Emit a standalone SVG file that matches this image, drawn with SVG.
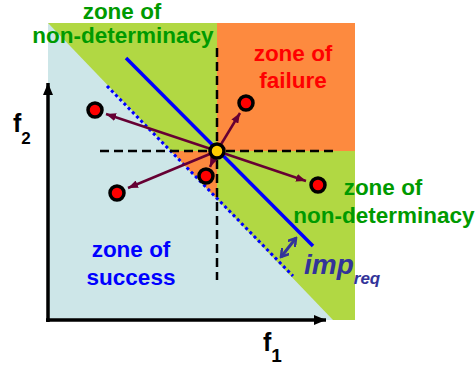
<svg xmlns="http://www.w3.org/2000/svg" width="476" height="369" viewBox="0 0 476 369">
<style>
.lbl{font-family:"Liberation Sans",Arial,sans-serif;font-weight:bold;font-size:22.5px;text-anchor:middle}
.grn{fill:#009a00}
.red{fill:#ff0000}
.blu{fill:#0000ff}
.axl{font-family:"Liberation Sans",Arial,sans-serif;font-weight:bold;fill:#000}
.dash{stroke:#000;stroke-width:2.5;stroke-dasharray:9 5;fill:none}
.arr{stroke:#660033;stroke-width:2.5;fill:none;marker-end:url(#ah)}
.dot{fill:#ff0000;stroke:#000;stroke-width:3.5}
</style>
<defs>
<marker id="ah" markerUnits="userSpaceOnUse" viewBox="0 0 10 8" refX="10" refY="4" markerWidth="10" markerHeight="8" orient="auto">
<path d="M0,0 L10,4 L0,8 Z" fill="#660033"/>
</marker>
<marker id="axh" markerUnits="userSpaceOnUse" viewBox="0 0 12 10" refX="12" refY="5" markerWidth="12" markerHeight="10" orient="auto">
<path d="M0,0 L12,5 L0,10 Z" fill="#000"/>
</marker>
<marker id="dh" markerUnits="userSpaceOnUse" viewBox="0 0 10 10" refX="8" refY="5" markerWidth="10" markerHeight="10" orient="auto">
<path d="M0,0 L8,5 L0,10" fill="none" stroke="#333399" stroke-width="2.5"/>
</marker>
<marker id="dt" markerUnits="userSpaceOnUse" viewBox="0 0 10 10" refX="2" refY="5" markerWidth="10" markerHeight="10" orient="auto">
<path d="M10,0 L2,5 L10,10" fill="none" stroke="#333399" stroke-width="2.5"/>
</marker>
</defs>
<g id="regions">
<rect x="48" y="23" width="307" height="297" fill="#b1d843"/>
<polygon points="48,23 333,320 48,320" fill="#cde6e8"/>
<rect x="217" y="23" width="138" height="128" fill="#fd8a3f"/>
<polygon points="171,151 217,151 217,199" fill="#fd8a3f"/>
</g>
<g id="lines">
<line x1="107" y1="86" x2="293" y2="276" stroke="#0000ff" stroke-width="3" stroke-dasharray="3 3"/>
<line x1="126" y1="58" x2="313" y2="246" stroke="#0000ff" stroke-width="3.5"/>
<line class="dash" x1="100" y1="151" x2="333" y2="151"/>
<line class="dash" x1="217" y1="48" x2="217" y2="280"/>
</g>
<g id="connectors">
<line class="arr" x1="217" y1="151" x2="106" y2="114"/>
<line class="arr" x1="217" y1="151" x2="240" y2="113"/>
<line class="arr" x1="217" y1="151" x2="128" y2="188"/>
<line class="arr" x1="217" y1="151" x2="210" y2="167"/>
<line class="arr" x1="217" y1="151" x2="306" y2="181"/>
<line x1="281" y1="257" x2="296" y2="238" stroke="#333399" stroke-width="3" marker-start="url(#dt)" marker-end="url(#dh)"/>
</g>
<g id="dots">
<circle class="dot" cx="95" cy="110" r="7"/>
<circle class="dot" cx="246" cy="103" r="7"/>
<circle class="dot" cx="117" cy="193" r="7"/>
<circle class="dot" cx="206" cy="176" r="7"/>
<circle class="dot" cx="318" cy="185" r="7"/>
<circle id="center" cx="217" cy="151" r="7" fill="#ffcc00" stroke="#000" stroke-width="3.5"/>
</g>
<g id="axes">
<line x1="48" y1="322" x2="48" y2="83" stroke="#000" stroke-width="3.5" marker-end="url(#axh)"/>
<line x1="46" y1="320" x2="326" y2="320" stroke="#000" stroke-width="3.5" marker-end="url(#axh)"/>
</g>
<g id="labels">
<text class="lbl grn" x="122" y="19" font-size="22">zone of</text>
<text class="lbl grn" x="123" y="43">non-determinacy</text>
<text class="lbl red" x="293" y="61">zone of</text>
<text class="lbl red" x="293" y="88">failure</text>
<text class="lbl grn" x="383" y="195">zone of</text>
<text class="lbl grn" x="384" y="223">non-determinacy</text>
<text class="lbl blu" x="131" y="257">zone of</text>
<text class="lbl blu" x="131" y="285">success</text>
<text x="304" y="274" font-family="Liberation Sans,Arial,sans-serif" font-weight="bold" font-style="italic" font-size="28" fill="#333399">imp<tspan font-size="17" dy="10">req</tspan></text>
<text class="axl" x="13" y="132" font-size="25">f<tspan font-size="17" dy="12">2</tspan></text>
<text class="axl" x="263" y="351" font-size="25">f<tspan font-size="19" dy="11">1</tspan></text>
</g>
</svg>
